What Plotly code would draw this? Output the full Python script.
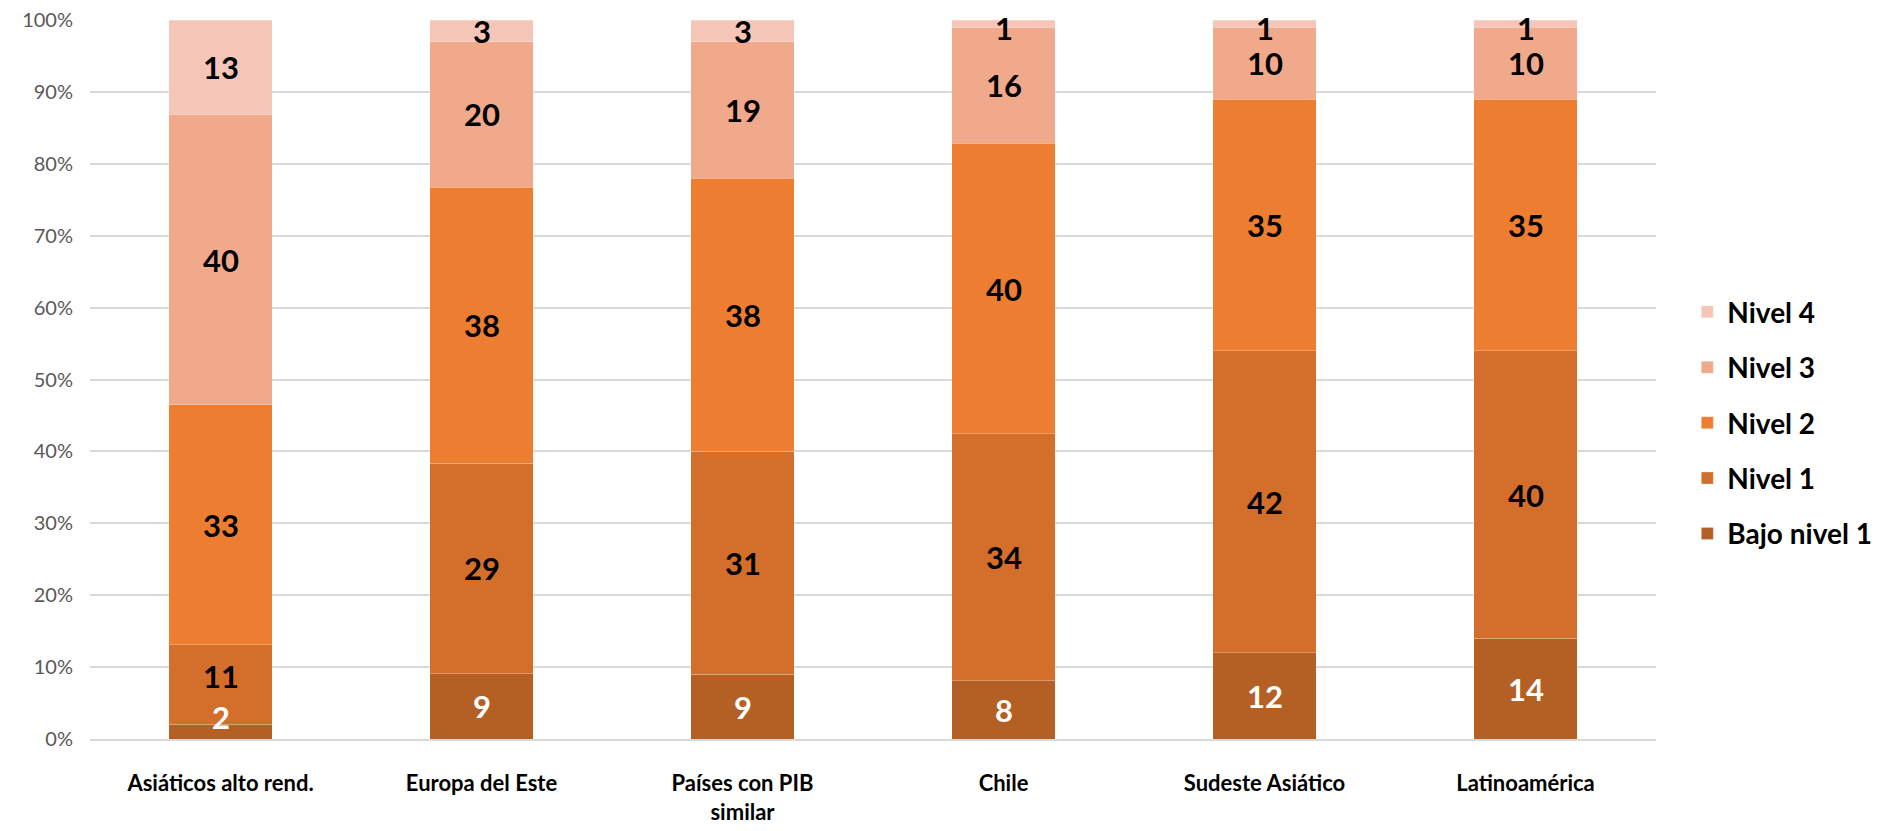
import plotly.graph_objects as go

categories = ["Asiáticos alto rend.", "Europa del Este", "Países con PIB<br>similar", "Chile", "Sudeste Asiático", "Latinoamérica"]
series_names = ["Bajo nivel 1", "Nivel 1", "Nivel 2", "Nivel 3", "Nivel 4"]
bajo_nivel_1 = [2, 9, 9, 8, 12, 14]
nivel_1 = [11, 29, 31, 34, 42, 40]
nivel_2 = [33, 38, 38, 40, 35, 35]
nivel_3 = [40, 20, 19, 16, 10, 10]
nivel_4 = [13, 3, 3, 1, 1, 1]
y_ticks = [0, 10, 20, 30, 40, 50, 60, 70, 80, 90, 100]
y_tick_labels = ["0%", "10%", "20%", "30%", "40%", "50%", "60%", "70%", "80%", "90%", "100%"]

series_values = [bajo_nivel_1, nivel_1, nivel_2, nivel_3, nivel_4]
colors = ["#B45F24", "#D46F2B", "#ED7D31", "#F0A98B", "#F5C6B8"]
text_colors = ["white", "black", "black", "black", "black"]

FONT = "Lato, 'Open Sans', sans-serif"

fig = go.Figure()
for i, (name, vals, col) in enumerate(zip(series_names, series_values, colors)):
    fig.add_trace(go.Bar(
        x=categories, y=vals, name=name,
        marker=dict(color=col, line=dict(width=0.5, color="rgba(255,255,255,0.5)")),
        legendgroup=name,
        legendrank=len(series_names) - i,
        hoverinfo="skip",
    ))

# data labels placed at the middle of each (normalised) segment
totals = [sum(s[j] for s in series_values) for j in range(len(categories))]
n_series = len(series_values)
annotations = []
for j, cat in enumerate(categories):
    cum = 0
    bottom_small = series_values[0][j] / totals[j] * 100 < 4
    for i, vals in enumerate(series_values):
        v = vals[j]
        pct = v / totals[j] * 100
        mid = (cum + v / 2) / totals[j] * 100
        y, yanchor, yshift = mid, "middle", 0
        if i == 0 and bottom_small:
            y, yanchor, yshift = 0, "bottom", 2
        elif i == 1 and bottom_small:
            yshift = 9
        elif i == n_series - 1 and pct < 2:
            yshift = -4
        annotations.append(dict(
            x=cat, y=y, xref="x", yref="y",
            text=str(v), showarrow=False, borderpad=0,
            yanchor=yanchor, yshift=yshift,
            font=dict(family=FONT, size=31, color=text_colors[i], weight="bold"),
        ))
        cum += v

fig.update_layout(
    barmode="stack", barnorm="percent", bargap=0.605,
    width=1880, height=823,
    margin=dict(l=82, r=232, t=12, b=92, autoexpand=False),
    plot_bgcolor="white", paper_bgcolor="white",
    font=dict(family=FONT),
    annotations=annotations,
    legend=dict(
        x=1.02, xanchor="left", y=0.44, yanchor="middle",
        traceorder="grouped", tracegroupgap=16,
        font=dict(family=FONT, size=28, color="black", weight="bold"),
    ),
    showlegend=True,
)
fig.update_yaxes(
    range=[0, 100], tickvals=y_ticks, ticktext=y_tick_labels,
    showgrid=True, gridcolor="#D9D9D9", gridwidth=1.5,
    zeroline=False, showline=False, automargin=False,
    ticklabeloverflow="allow",
    tickfont=dict(family=FONT, size=20, color="#595959"),
    ticks="outside", ticklen=12, tickcolor="rgba(0,0,0,0)",
)
fig.update_xaxes(
    showline=True, linecolor="#D9D9D9", linewidth=1.5, automargin=False,
    tickfont=dict(family=FONT, size=22, color="black", weight="bold"),
    ticks="outside", ticklen=24, tickcolor="rgba(0,0,0,0)",
)

fig.write_html("out.html")
